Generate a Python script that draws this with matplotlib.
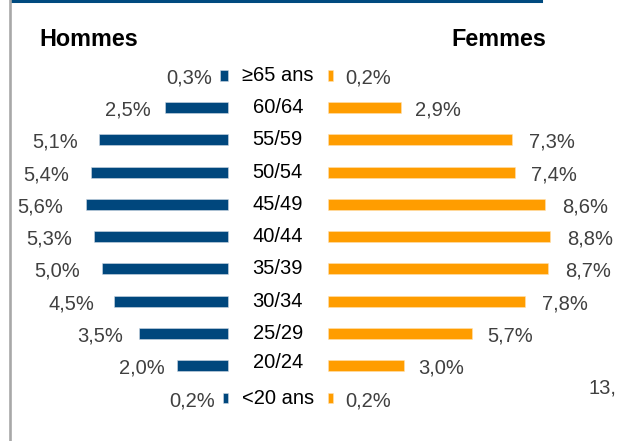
import matplotlib
matplotlib.use("Agg")
import matplotlib.pyplot as plt
from matplotlib.lines import Line2D

plt.rcParams['font.family'] = ['Liberation Sans', 'DejaVu Sans']

categories = ["≥65 ans", "60/64", "55/59", "50/54", "45/49", "40/44",
              "35/39", "30/34", "25/29", "20/24", "<20 ans"]
hommes = [0.3, 2.5, 5.1, 5.4, 5.6, 5.3, 5.0, 4.5, 3.5, 2.0, 0.2]
femmes = [0.2, 2.9, 7.3, 7.4, 8.6, 8.8, 8.7, 7.8, 5.7, 3.0, 0.2]
hommes_labels = ["0,3%", "2,5%", "5,1%", "5,4%", "5,6%", "5,3%", "5,0%", "4,5%", "3,5%", "2,0%", "0,2%"]
femmes_labels = ["0,2%", "2,9%", "7,3%", "7,4%", "8,6%", "8,8%", "8,7%", "7,8%", "5,7%", "3,0%", "0,2%"]

navy = '#00477D'
orange = '#FF9D00'
grey_txt = '#404040'

W, H = 617, 441
fig = plt.figure(figsize=(W / 100, H / 100), dpi=100)
ax = fig.add_axes([0, 0, 1, 1])
ax.axis('off')

px_per = 25.3          # pixels per percent
cx = 277.85            # centre of figure gap, px
half_gap = 49.85 / px_per
row0, row_step = 75.2, 32.28

ax.set_xlim(-cx / px_per, (W - cx) / px_per)
ax.set_ylim((H - row0) / row_step, -row0 / row_step)

y = list(range(len(categories)))
bh = 0.34
ax.barh(y, [-v for v in hommes], left=-half_gap, height=bh, color=navy,
        edgecolor='#cfd9e3', linewidth=0.4)
ax.barh(y, femmes, left=half_gap, height=bh, color=orange,
        edgecolor='#ffe2b0', linewidth=0.4)

for i, (cat, h, f, hl, fl) in enumerate(zip(categories, hommes, femmes,
                                            hommes_labels, femmes_labels)):
    ax.text(0, i - (0.09 if cat == "20/24" else 0), cat, ha='center', va='center',
            fontsize=14.5, color='black')
    ax.text(-2.247 - 1.111 * h, i + 0.08, hl, ha='right', va='center',
            fontsize=14.5, color=grey_txt)
    ax.text(2.476 + 1.02 * f, i + 0.08, fl, ha='left', va='center',
            fontsize=14.5, color=grey_txt)

fig.text(88.5 / W, 1 - 40 / H, "Hommes", ha='center', va='center',
         fontsize=16.8, fontweight='bold', color='black')
fig.text(499 / W, 1 - 40 / H, "Femmes", ha='center', va='center',
         fontsize=16.8, fontweight='bold', color='black')
fig.text(616 / W, 1 - 388 / H, "13,", ha='right', va='center',
         fontsize=14.5, color=grey_txt)

# frame decorations
fig.add_artist(Line2D([11 / W, 541 / W], [1 - 1.4 / H, 1 - 1.4 / H],
                      color='#004A7F', linewidth=2.2, transform=fig.transFigure))
fig.add_artist(Line2D([9.5 / W, 9.5 / W], [0, 1], color='#A8A8A8',
                      linewidth=1.9, transform=fig.transFigure))

fig.savefig('out.png', dpi=100)
